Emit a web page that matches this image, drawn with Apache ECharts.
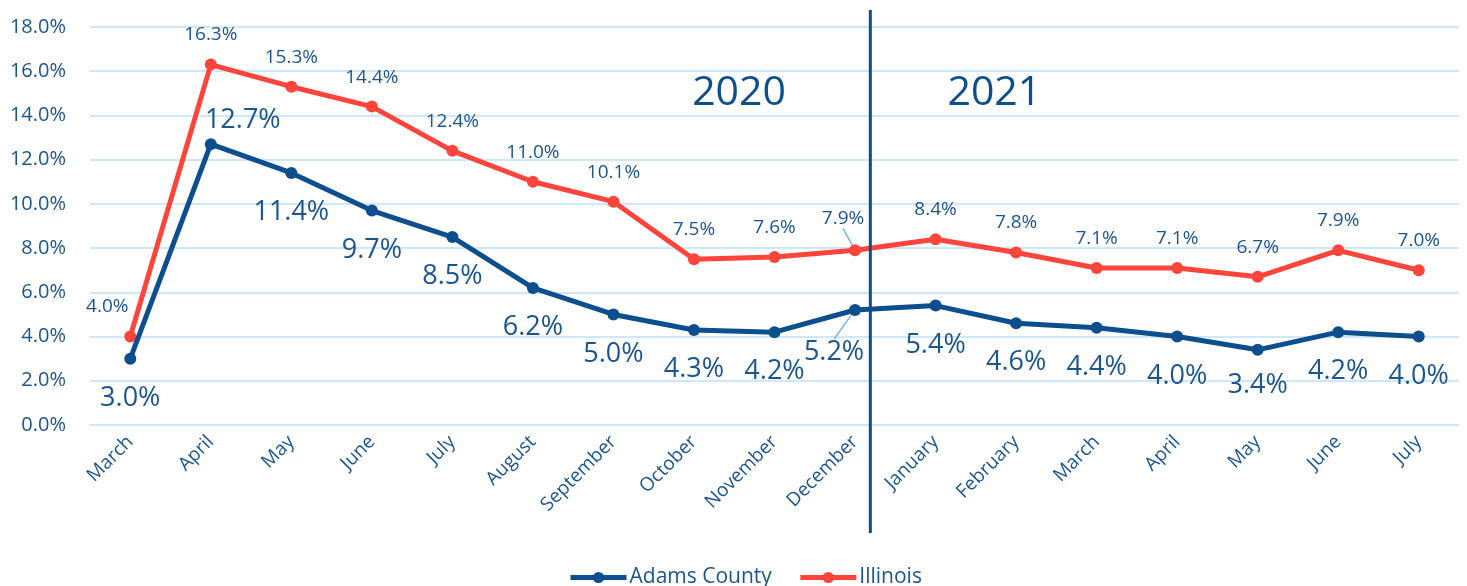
<!DOCTYPE html>
<html>
<head>
<meta charset="utf-8">
<script src="https://cdn.jsdelivr.net/npm/echarts@6/dist/echarts.min.js"></script>
<style>
html,body{margin:0;padding:0;background:#fff;}
#main{width:1467px;height:586px;}
</style>
</head>
<body>
<div id="main"></div>
<script>
// ---- data ----
const months = ['March','April','May','June','July','August','September','October','November','December','January','February','March','April','May','June','July'];
const adamsCounty = [3.0,12.7,11.4,9.7,8.5,6.2,5.0,4.3,4.2,5.2,5.4,4.6,4.4,4.0,3.4,4.2,4.0];
const illinois = [4.0,16.3,15.3,14.4,12.4,11.0,10.1,7.5,7.6,7.9,8.4,7.8,7.1,7.1,6.7,7.9,7.0];
const yearLabels = ['2020','2021'];
const yTicks = {min:0, max:18, interval:2};

// ---- styles ----
const BLUE = '#0D4E8E';
const RED = '#FF443B';
const TEXT = '#1A5592';
const FONT = '"Open Sans", sans-serif';

// label adjustments (styling only)
const adamsMoves = {1:{dx:32,dy:-63}, 9:{dx:-21,dy:3}, 14:{dx:0,dy:-4}};
const illinoisMoves = {0:{dx:-23,dy:0}, 9:{dx:-12,dy:-2}};
const leaderIdx = 9;

function buildData(vals){
  return vals.map((v,i)=>{
    const item = {value:v};
    if(i===leaderIdx){
      item.labelLine = {show:true, lineStyle:{color:'#6FB7F0', width:1.5}};
    }
    return item;
  });
}

const chart = echarts.init(document.getElementById('main'));
const option = {
  animation:false,
  textStyle:{fontFamily:FONT},
  grid:{left:90, right:8, top:27, bottom:161, containLabel:false},
  legend:{
    bottom:-7, left:563,
    itemWidth:56, itemHeight:14, itemGap:26,
    lineStyle:{width:5},
    textStyle:{color:TEXT, fontSize:21, fontFamily:FONT, padding:[0,0,0,-2]},
    data:['Adams County','Illinois']
  },
  xAxis:{
    type:'category', data:months, boundaryGap:true,
    axisLine:{show:false}, axisTick:{show:false},
    axisLabel:{rotate:45, color:TEXT, fontSize:19, fontFamily:FONT, margin:14, interval:0}
  },
  yAxis:{
    type:'value', min:yTicks.min, max:yTicks.max, interval:yTicks.interval,
    axisLine:{show:false}, axisTick:{show:false},
    axisLabel:{color:TEXT, fontSize:20, fontFamily:FONT, margin:24, formatter:v=>v.toFixed(1)+'%'},
    splitLine:{lineStyle:{color:'#CFE7FB', width:2}}
  },
  series:[
    {
      name:'Adams County', type:'line', data:buildData(adamsCounty),
      symbol:'circle', symbolSize:12,
      lineStyle:{color:BLUE, width:5}, itemStyle:{color:BLUE},
      label:{show:true, position:'bottom', distance:20, color:TEXT, fontSize:27, fontFamily:FONT,
             formatter:p=>p.value.toFixed(1)+'%'},
      labelLayout:p=>adamsMoves[p.dataIndex]||{},
      z:3
    },
    {
      name:'Illinois', type:'line', data:buildData(illinois),
      symbol:'circle', symbolSize:12,
      lineStyle:{color:RED, width:5}, itemStyle:{color:RED},
      label:{show:true, position:'top', distance:14, color:TEXT, fontSize:19, fontFamily:FONT,
             formatter:p=>p.value.toFixed(1)+'%'},
      labelLayout:p=>illinoisMoves[p.dataIndex]||{},
      z:2
    }
  ]
};
chart.setOption(option);

// divider between years and year headings, positioned via axis scales
function px(idx, val){
  const i0 = Math.floor(idx), f = idx - i0;
  const a = chart.convertToPixel({xAxisIndex:0,yAxisIndex:0},[i0,val]);
  const b = chart.convertToPixel({xAxisIndex:0,yAxisIndex:0},[i0+1,val]);
  return [a[0] + f*(b[0]-a[0]), a[1]];
}
const dec = months.indexOf('December');
const divX = px(dec+0.19, 0)[0];
const y2020 = px(7.56, 15);
const y2021 = px(dec+1.73, 15);
chart.setOption({
  graphic:[
    {type:'line', shape:{x1:divX,y1:10,x2:divX,y2:533}, style:{stroke:BLUE, lineWidth:3}, z:100},
    {type:'text', x:y2020[0], y:y2020[1], style:{text:yearLabels[0], fill:BLUE, font:'41px '+FONT, align:'center', verticalAlign:'middle'}, z:100},
    {type:'text', x:y2021[0], y:y2021[1], style:{text:yearLabels[1], fill:BLUE, font:'41px '+FONT, align:'center', verticalAlign:'middle'}, z:100}
  ]
});
</script>
</body>
</html>
